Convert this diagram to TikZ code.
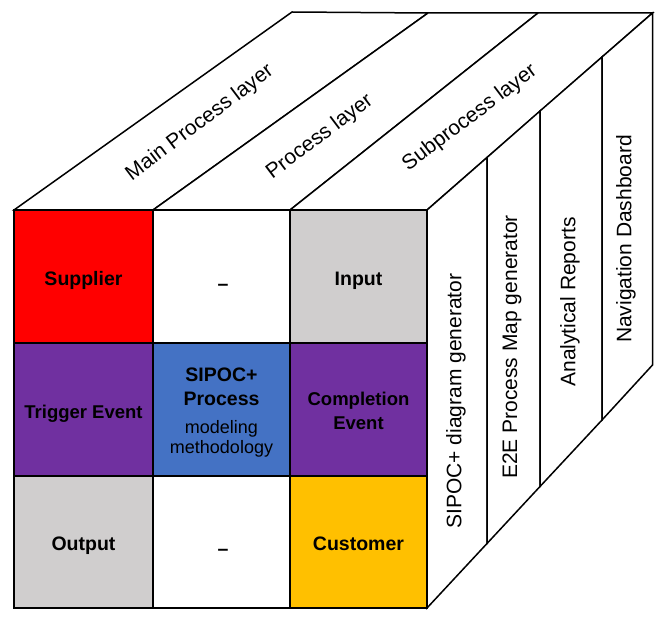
\documentclass[tikz,border=0pt]{standalone}
\usepackage{fontspec}
\setmainfont{Liberation Sans}
\definecolor{cRed}{HTML}{FF0000}
\definecolor{cGray}{HTML}{D0CECE}
\definecolor{cPurple}{HTML}{7030A0}
\definecolor{cBlue}{HTML}{4472C4}
\definecolor{cGold}{HTML}{FFC000}
\begin{document}
\begin{tikzpicture}[x=1pt,y=-1pt,
  face/.style={draw=black, fill=white, line width=1.5pt, line join=miter},
  cell/.style={draw=black, line width=2pt, inner sep=0pt, outer sep=0pt, align=center,
    font=\fontsize{19.5}{23}\selectfont\bfseries},
  oneline/.style={text height=17pt, text depth=0pt},
  wide/.style={minimum width=139pt},
  narrow/.style={minimum width=137pt},
  tall/.style={minimum height=133pt},
  short/.style={minimum height=132pt},
  toplabel/.style={rotate=37, inner sep=0pt, font=\fontsize{21}{24}\selectfont},
  sidelabel/.style={rotate=90, inner sep=0pt, font=\fontsize{21}{24}\selectfont},
  dashlabel/.style={inner sep=0pt, font=\fontsize{19.5}{23}\selectfont\bfseries}
]
\useasboundingbox (0,0) rectangle (663,617);
% front corners
\coordinate (f0) at (14,210);
\coordinate (f1) at (153,210);
\coordinate (f2) at (290,210);
\coordinate (f3) at (427,210);
\coordinate (fb) at (427,608);
% back top corners
\coordinate (b0) at (292,12);
\coordinate (b1) at (428,13);
\coordinate (b2) at (538,13);
\coordinate (b3) at (652.5,13);
% right face top points
\coordinate (r1) at (487,157.5);
\coordinate (r2) at (540,111);
\coordinate (r3) at (602,57);
% right face bottom points
\coordinate (s1) at (487,543.5);
\coordinate (s2) at (540,486.5);
\coordinate (s3) at (602,420);
\coordinate (s4) at (652.5,365);
% top face strips
\draw[face] (f0) -- (f1) -- (b1) -- (b0) -- cycle;
\draw[face] (f1) -- (f2) -- (b2) -- (b1) -- cycle;
\draw[face] (f2) -- (f3) -- (b3) -- (b2) -- cycle;
% right face strips
\draw[face] (f3) -- (r1) -- (s1) -- (fb) -- cycle;
\draw[face] (r1) -- (r2) -- (s2) -- (s1) -- cycle;
\draw[face] (r2) -- (r3) -- (s3) -- (s2) -- cycle;
\draw[face] (r3) -- (b3) -- (s4) -- (s3) -- cycle;
% top labels
\node[toplabel] (lmain) at (200,123) {Main Process layer};
\node[toplabel] (lproc) at (320,137) {Process layer};
\node[toplabel] (lsub) at (470,118) {Subprocess layer};
% side labels
\node[sidelabel] (lsipoc) at (456,401) {SIPOC+ diagram generator};
\node[sidelabel] (le2e) at (512,347) {E2E Process Map generator};
\node[sidelabel] (lana) at (570,302) {Analytical Reports};
\node[sidelabel] (lnav) at (626,239) {Navigation Dashboard};
% front cells
\node[cell, oneline, wide, tall, fill=cRed] (sup) at (83.5,276.5) {Supplier};
\node[cell, narrow, tall, fill=white] (blank1) at (221.5,276.5) {};
\node[cell, oneline, narrow, tall, fill=cGray] (inp) at (358.5,276.5) {Input};
\node[cell, oneline, wide, tall, fill=cPurple, font=\fontsize{18.5}{23}\selectfont\bfseries] (trig) at (83.5,409.5) {Trigger Event};
\node[cell, narrow, tall, fill=cBlue] (proc) at (221.5,409.5) {};
\node[inner sep=0pt, align=center, font=\fontsize{19.5}{23}\selectfont\bfseries] (proctext) at (221.5,413) {SIPOC+\\[1pt]Process\\[5pt]{\fontsize{18}{22}\selectfont\mdseries modeling}\\[-3pt]{\fontsize{18}{22}\selectfont\mdseries methodology}};
\node[cell, narrow, tall, fill=cPurple] (comp) at (358.5,409.5) {};
\node[inner sep=0pt, align=center, font=\fontsize{18.5}{24}\selectfont\bfseries] (comptext) at (358.5,411) {Completion\\Event};
\node[cell, oneline, wide, short, fill=cGray] (out) at (83.5,542) {Output};
\node[cell, narrow, short, fill=white] (blank2) at (221.5,542) {};
\node[cell, oneline, narrow, short, fill=cGold] (cust) at (358.5,542) {Customer};
\node[dashlabel] (dash1) at (223,287) {–};
\node[dashlabel] (dash2) at (223,552) {–};
\end{tikzpicture}
\end{document}
